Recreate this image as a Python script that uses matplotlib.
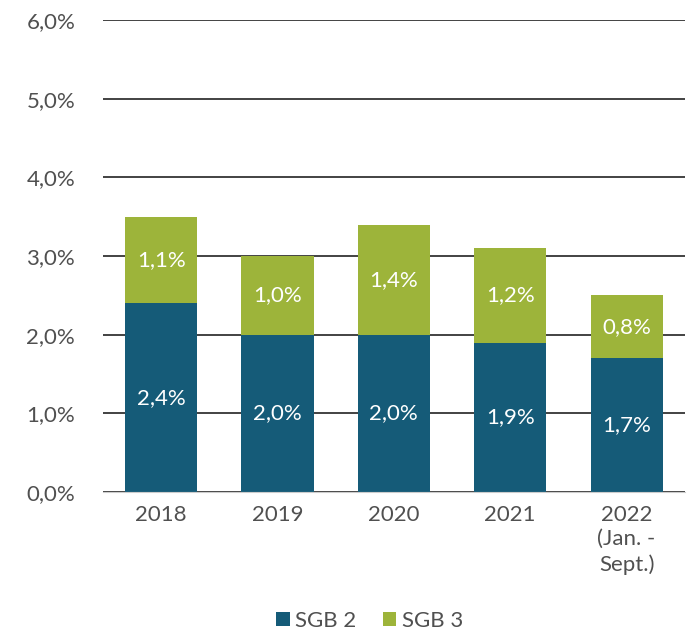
import matplotlib
matplotlib.use("Agg")
import matplotlib.pyplot as plt
import numpy as np

plt.rcParams['font.family'] = ['Lato', 'DejaVu Sans']

# Data
years = ['2018', '2019', '2020', '2021', '2022\n(Jan. -\nSept.)']
sgb2 = [2.4, 2.0, 2.0, 1.9, 1.7]
sgb3 = [1.1, 1.0, 1.4, 1.2, 0.8]

c_sgb2 = '#155b78'
c_sgb3 = '#9db43a'
grey = '#505050'

fig = plt.figure(figsize=(6.91, 6.32), dpi=100, facecolor='white')
ax = fig.add_axes([0.149, 0.2215, 0.842, 0.7465])

x = np.arange(len(years))
w = 0.62
b1 = ax.bar(x, sgb2, w, color=c_sgb2, label='SGB 2', zorder=3)
b2 = ax.bar(x, sgb3, w, bottom=sgb2, color=c_sgb3, label='SGB 3', zorder=3)

# labels inside bars
for i in range(len(years)):
    ax.text(x[i], sgb2[i] / 2, f"{sgb2[i]:.1f}%".replace('.', ','),
            ha='center', va='center', color='white', fontsize=16, zorder=4)
    ax.text(x[i], sgb2[i] + sgb3[i] / 2, f"{sgb3[i]:.1f}%".replace('.', ','),
            ha='center', va='center', color='white', fontsize=16, zorder=4)

ax.set_xlim(-0.5, len(years) - 0.5)
ax.set_ylim(0, 6)
ax.set_yticks(np.arange(0, 7, 1))
ax.set_yticklabels([f"{v:.1f}%".replace('.', ',') for v in range(7)])
ax.set_xticks(x)
ax.set_xticklabels(years, linespacing=1.3)

ax.yaxis.grid(True, color='#222222', linewidth=1.2, zorder=0)
ax.set_axisbelow(True)
for s in ['top', 'right', 'left']:
    ax.spines[s].set_visible(False)
ax.spines['bottom'].set_color('#cccccc')
ax.spines['bottom'].set_zorder(5)
ax.tick_params(axis='both', length=0, labelsize=16, colors=grey)
ax.tick_params(axis='y', pad=20)
ax.tick_params(axis='x', pad=9)

leg = fig.legend(handles=[b1, b2], loc='center', bbox_to_anchor=(0.535, 0.018),
                 ncol=2, frameon=False, fontsize=16, handlelength=0.6,
                 handleheight=0.6, handletextpad=0.25, columnspacing=1.2)
for t in leg.get_texts():
    t.set_color(grey)

fig.savefig('out.png', dpi=100, facecolor='white')
